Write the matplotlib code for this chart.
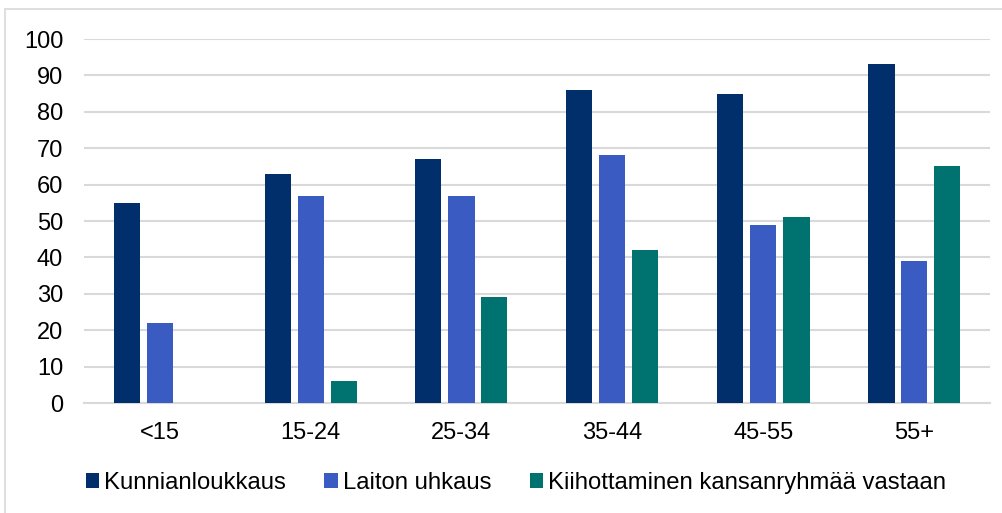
import matplotlib
matplotlib.use("Agg")
import matplotlib.pyplot as plt
import numpy as np
from matplotlib.patches import Rectangle

categories = ["<15", "15-24", "25-34", "35-44", "45-55", "55+"]
series_names = ["Kunnianloukkaus", "Laiton uhkaus", "Kiihottaminen kansanryhmää vastaan"]
kunnianloukkaus = [55, 63, 67, 86, 85, 93]
laiton_uhkaus = [22, 57, 57, 68, 49, 39]
kiihottaminen = [0, 6, 29, 42, 51, 65]
yticks = [0, 10, 20, 30, 40, 50, 60, 70, 80, 90, 100]

colors = ["#002F6C", "#3A5BC2", "#007370"]

plt.rcParams['font.family'] = ['Liberation Sans', 'DejaVu Sans']

W, H = 1003, 513
fig = plt.figure(figsize=(W/100, H/100), dpi=100)
ax = fig.add_axes([84/W, 1-403/H, (990-84)/W, (403-39)/H])

x = np.arange(len(categories))
bw = 26/151
step = 33/151
data = [kunnianloukkaus, laiton_uhkaus, kiihottaminen]
for i, (vals, name, c) in enumerate(zip(data, series_names, colors)):
    vals_plot = [v if v > 0 else np.nan for v in vals]
    ax.bar(x + (i-1)*step, vals_plot, width=bw, color=c, label=name, zorder=3)

ax.set_xlim(-0.5, len(categories)-0.5)
ax.set_ylim(0, 100)
ax.set_yticks(yticks)
ax.set_xticks(x)
ax.set_xticklabels(categories)
ax.tick_params(axis='both', length=0, labelsize=17, colors="#000000")
ax.tick_params(axis='y', pad=15)
ax.tick_params(axis='x', pad=14)
ax.grid(axis='y', color="#D9D9D9", linewidth=1.5, zorder=0)
for s in ["top", "right", "left"]:
    ax.spines[s].set_visible(False)
ax.spines["bottom"].set_color("#D9D9D9")
ax.spines["bottom"].set_linewidth(1.5)

leg = fig.legend(loc="center", bbox_to_anchor=(516/W, 1-483/H), ncol=3, frameon=False,
                 fontsize=17.2, handlelength=0.55, handleheight=0.55, handletextpad=0.22,
                 columnspacing=1.6, borderpad=0, borderaxespad=0)

fig.patches.append(Rectangle((5/W, -0.1), 1.2, 1-9/H+0.1, transform=fig.transFigure,
                             fill=False, edgecolor="#D9D9D9", linewidth=1.2))

fig.savefig("out.png", dpi=100)
